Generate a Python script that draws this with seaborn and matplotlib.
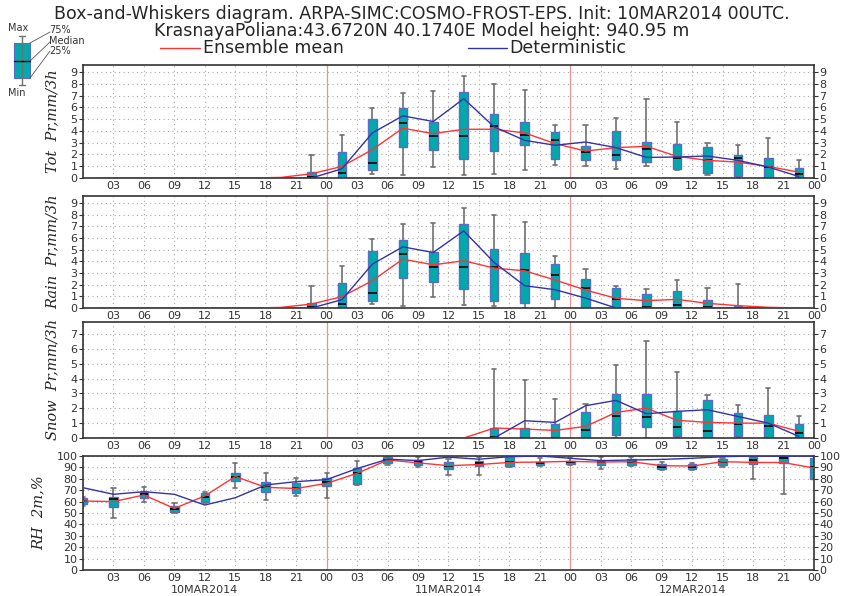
import numpy as np
import pandas as pd
import seaborn as sns
import matplotlib.pyplot as plt
from matplotlib.lines import Line2D
from matplotlib.patches import Rectangle

# ---- data (hours since 10MAR2014 00UTC) ----
# precipitation: 3h accumulations, plotted in the middle of each interval
pr_time = [1.5, 4.5, 7.5, 10.5, 13.5, 16.5, 19.5, 22.5, 25.5, 28.5, 31.5, 34.5,
           37.5, 40.5, 43.5, 46.5, 49.5, 52.5, 55.5, 58.5, 61.5, 64.5, 67.5, 70.5]

tot_max = [0, 0, 0, 0, 0, 0, 0, 1.92, 3.63, 5.97, 7.25, 7.36, 8.68, 7.99, 7.45, 4.49,
           4.49, 5.11, 6.68, 4.77, 2.98, 2.83, 3.43, 1.50]
tot_q3 = [0, 0, 0, 0, 0, 0, 0, 0.47, 2.20, 5.00, 5.91, 4.80, 7.28, 5.43, 4.80, 3.87,
          2.75, 4.03, 3.03, 2.86, 2.64, 1.98, 1.67, 0.87]
tot_med = [0, 0, 0, 0, 0, 0, 0, 0.07, 0.44, 1.30, 4.71, 3.60, 3.55, 4.46, 3.69, 3.27,
           2.18, 1.98, 2.44, 1.72, 1.55, 1.72, 0.93, 0.36]
tot_q1 = [0, 0, 0, 0, 0, 0, 0, 0, 0, 0.64, 2.64, 2.35, 1.64, 2.26, 2.78, 1.61,
          1.50, 1.52, 1.32, 0.75, 0.41, 0.13, 0, 0]
tot_min = [0, 0, 0, 0, 0, 0, 0, 0, 0, 0.36, 0.27, 0.93, 0.27, 0.36, 0.64, 1.13,
           1.01, 0.73, 1.04, 0.64, 0.27, 0, 0, 0]
tot_mean = [0, 0, 0, 0, 0, 0, 0.05, 0.36, 0.98, 2.41, 4.23, 3.77, 4.14, 4.14, 3.83, 2.92,
            2.29, 2.58, 2.69, 1.84, 1.50, 1.35, 0.98, 0.50]
tot_det = [0, 0, 0, 0, 0, 0, 0, 0, 0.78, 3.83, 5.28, 4.80, 6.74, 4.34, 3.20, 2.78,
           3.06, 2.58, 1.75, 1.78, 1.87, 1.50, 0.93, 0.13]

rain_max = [0, 0, 0, 0, 0, 0, 0, 1.85, 3.56, 5.90, 7.18, 7.26, 8.60, 7.95, 7.38, 4.42,
            3.33, 1.91, 1.62, 2.42, 1.68, 2.05, 0, 0]
rain_q3 = [0, 0, 0, 0, 0, 0, 0, 0.40, 2.11, 4.90, 5.87, 4.79, 7.24, 5.10, 4.73, 3.77,
           2.48, 1.68, 1.22, 1.48, 0.71, 0.20, 0, 0]
rain_med = [0, 0, 0, 0, 0, 0, 0, 0.06, 0.34, 1.28, 4.62, 3.53, 3.50, 3.50, 3.25, 2.80,
            1.68, 0.77, 0.06, 0.26, 0.06, 0.02, 0, 0]
rain_q1 = [0, 0, 0, 0, 0, 0, 0, 0, 0, 0.63, 2.56, 2.25, 1.60, 0.63, 0.43, 0.74,
           0, 0, 0, 0, 0, 0, 0, 0]
rain_min = [0, 0, 0, 0, 0, 0, 0, 0, 0, 0.34, 0.20, 0.91, 0.26, 0.14, 0, 0,
            0, 0, 0, 0, 0, 0, 0, 0]
rain_mean = [0, 0, 0, 0, 0, 0, 0.05, 0.34, 0.97, 2.34, 4.19, 3.70, 4.05, 3.42, 3.19, 2.40,
             1.54, 0.83, 0.63, 0.74, 0.40, 0.20, 0.06, 0]
rain_det = [0, 0, 0, 0, 0, 0, 0, 0, 0.71, 3.76, 5.24, 4.76, 6.61, 3.90, 1.91, 1.57,
            0.85, 0, 0, 0, 0, 0, 0, 0]

snow_max = [0, 0, 0, 0, 0, 0, 0, 0, 0, 0, 0, 0, 0, 4.65, 3.87, 2.62,
            2.30, 4.88, 6.55, 4.47, 2.91, 2.19, 3.36, 1.45]
snow_q3 = [0, 0, 0, 0, 0, 0, 0, 0, 0, 0, 0, 0, 0, 0.67, 0.67, 0.94,
           1.72, 2.98, 2.93, 1.79, 2.53, 1.68, 1.57, 0.92]
snow_med = [0, 0, 0, 0, 0, 0, 0, 0, 0, 0, 0, 0, 0, 0.05, 0.03, 0.03,
            0.56, 1.45, 1.41, 0.74, 0.45, 0.96, 0.83, 0.34]
snow_q1 = [0, 0, 0, 0, 0, 0, 0, 0, 0, 0, 0, 0, 0, 0, 0, 0,
           0, 0.18, 0.72, 0.16, 0, 0.11, 0, 0]
snow_min = [0] * 24
snow_mean = [0, 0, 0, 0, 0, 0, 0, 0, 0, 0, 0, 0, 0, 0.67, 0.60, 0.51,
             0.78, 1.72, 2.01, 1.19, 1.05, 1.00, 1.00, 0.45]
snow_det = [0, 0, 0, 0, 0, 0, 0, 0, 0, 0, 0, 0, 0, 0, 1.16, 1.05,
            2.17, 2.53, 1.63, 1.79, 1.90, 1.45, 1.00, 0.11]

# relative humidity, instantaneous every 3h
rh_time = [0, 3, 6, 9, 12, 15, 18, 21, 24, 27, 30, 33, 36, 39, 42, 45, 48,
           51, 54, 57, 60, 63, 66, 69, 72]
rh_max = [64.0, 71.6, 73.0, 58.5, 68.7, 93.6, 84.8, 81.0, 85.4, 95.9, 99.4, 99.4, 97.0,
          98.8, 100, 98.0, 98.0, 98.8, 99.4, 94.4, 94.0, 97.9, 100, 100, 100]
rh_q3 = [62.9, 64.3, 68.7, 56.4, 67.8, 85.4, 77.5, 76.0, 81.0, 89.2, 99.0, 96.5, 94.4,
         95.9, 98.8, 95.0, 95.9, 96.5, 97.0, 93.0, 93.0, 97.4, 99.4, 99.4, 98.0]
rh_med = [60.5, 62.0, 66.4, 53.8, 64.3, 81.9, 73.0, 72.0, 77.5, 84.8, 96.5, 94.4, 91.5,
          93.6, 95.0, 93.6, 94.4, 94.4, 94.7, 90.6, 90.6, 94.7, 96.5, 98.0, 90.0]
rh_q1 = [57.6, 55.0, 62.9, 51.2, 60.0, 78.1, 68.7, 67.3, 73.7, 75.1, 93.6, 92.1, 88.6,
         91.2, 91.2, 92.1, 93.0, 92.0, 92.0, 88.3, 88.3, 92.1, 93.0, 94.2, 79.5]
rh_min = [56.5, 45.9, 60.0, 49.7, 59.0, 71.6, 61.4, 65.0, 63.5, 74.5, 92.0, 90.6, 83.6,
          83.3, 90.6, 91.0, 92.1, 89.0, 91.5, 87.7, 88.0, 90.0, 79.5, 66.7, 79.5]
rh_mean = [60.5, 60.0, 65.8, 54.0, 65.0, 82.0, 72.5, 71.5, 76.0, 84.8, 96.5, 94.0, 91.5,
           92.5, 94.4, 94.7, 95.3, 94.7, 95.0, 91.5, 91.2, 95.0, 94.4, 94.2, 89.5]
rh_det = [72.2, 66.4, 68.7, 66.4, 57.0, 63.4, 74.6, 77.5, 79.3, 89.0, 97.2, 96.0, 99.0,
          97.2, 99.4, 100, 98.0, 95.9, 96.5, 97.0, 98.0, 99.4, 100, 100, 100]

# ---- style ----
TEAL = '#00aaaa'
BOXEDGE = '#5a6cc8'
WHISK = '#707070'
RED = '#ff3333'
BLUE = '#3333a8'
VLINE = '#f09090'


def long_table(times, mn, q1, md, q3, mx):
    # five values per box -> seaborn quartiles fall exactly on q1/median/q3
    rows = []
    for t, a, b, c, d, e in zip(times, mn, q1, md, q3, mx):
        if e == 0:
            continue
        for v in (a, b, c, d, e):
            rows.append({'t': t, 'v': v})
    return pd.DataFrame(rows)


def draw_panel(ax, times, mn, q1, md, q3, mx, mean, det, ymax, yticks, ylabel):
    df = long_table(times, mn, q1, md, q3, mx)
    sns.boxplot(data=df, x='t', y='v', native_scale=True, whis=(0, 100), width=0.28,
                color=TEAL, saturation=1, linecolor=BOXEDGE, linewidth=1.0,
                showfliers=False, ax=ax,
                medianprops={'color': 'black', 'linewidth': 1.2},
                whiskerprops={'color': WHISK, 'linewidth': 1.2},
                capprops={'color': WHISK, 'linewidth': 1.2},
                boxprops={'zorder': 2})
    sns.lineplot(x=times, y=mean, color=RED, linewidth=1.0, ax=ax, zorder=4)
    sns.lineplot(x=times, y=det, color=BLUE, linewidth=1.0, ax=ax, zorder=4)

    ax.set_xlim(0, 72)
    ax.set_ylim(0, ymax)
    xt = list(range(0, 73, 3))
    ax.set_xticks(xt)
    ax.set_xticklabels([''] + ['%02d' % (t % 24) for t in xt[1:]])
    ax.set_yticks(yticks)
    ax.set_yticklabels([str(y) for y in yticks])
    ax.grid(True, linestyle=(0, (1, 3)), color='#a8a8a8', linewidth=0.8)
    ax.set_axisbelow(True)
    for d in (24, 48):
        ax.axvline(d, color=VLINE, linewidth=0.9, zorder=1.5)
    ax.tick_params(axis='y', which='both', left=True, right=True, labelleft=True,
                   labelright=True, direction='out', length=3, labelsize=8, pad=1,
                   colors='#333333')
    ax.tick_params(axis='x', direction='in', length=3, labelsize=8, pad=2, colors='#333333')
    ax.set_xlabel('')
    ax.set_ylabel(ylabel, family='DejaVu Serif', style='italic', fontsize=10.5, labelpad=8)
    for s in ax.spines.values():
        s.set_color('#333333')
        s.set_linewidth(1.2)


sns.set_style('white')
plt.rcParams['font.family'] = ['DejaVu Sans']

fig = plt.figure(figsize=(8.43, 5.96), dpi=100)
W, H = 843.0, 596.0
left, width = 83 / W, 731 / W
ax1 = fig.add_axes([left, 1 - 178 / H, width, 113 / H])
ax2 = fig.add_axes([left, 1 - 308 / H, width, 112 / H])
ax3 = fig.add_axes([left, 1 - 438 / H, width, 116 / H])
ax4 = fig.add_axes([left, 1 - 570 / H, width, 114 / H])

draw_panel(ax1, pr_time, tot_min, tot_q1, tot_med, tot_q3, tot_max, tot_mean, tot_det,
           9.6, list(range(10)), 'Tot  Pr,mm/3h')
draw_panel(ax2, pr_time, rain_min, rain_q1, rain_med, rain_q3, rain_max, rain_mean, rain_det,
           9.6, list(range(10)), 'Rain  Pr,mm/3h')
draw_panel(ax3, pr_time, snow_min, snow_q1, snow_med, snow_q3, snow_max, snow_mean, snow_det,
           7.8, list(range(8)), 'Snow  Pr,mm/3h')
draw_panel(ax4, rh_time, rh_min, rh_q1, rh_med, rh_q3, rh_max, rh_mean, rh_det,
           100, list(range(0, 101, 10)), 'RH  2m,%')

# day labels under the bottom panel
for xd, lab in [(12, '10MAR2014'), (36, '11MAR2014'), (60, '12MAR2014')]:
    ax4.text(xd, -0.13, lab, transform=ax4.get_xaxis_transform(), ha='center', va='top',
             fontsize=8, color='#333333')

# titles
fig.text(0.5, 1 - 14 / H, 'Box-and-Whiskers diagram. ARPA-SIMC:COSMO-FROST-EPS. Init: 10MAR2014 00UTC.',
         ha='center', va='center', fontsize=12.5)
fig.text(0.5, 1 - 31 / H, 'KrasnayaPoliana:43.6720N 40.1740E Model height: 940.95 m',
         ha='center', va='center', fontsize=12.5)

# line legend
fig.add_artist(Line2D([160 / W, 200 / W], [1 - 48 / H, 1 - 48 / H], color=RED, linewidth=1.0))
fig.text(203 / W, 1 - 48 / H, 'Ensemble mean', ha='left', va='center', fontsize=12.5)
fig.add_artist(Line2D([468 / W, 507 / W], [1 - 48 / H, 1 - 48 / H], color=BLUE, linewidth=1.0))
fig.text(509 / W, 1 - 48 / H, 'Deterministic', ha='left', va='center', fontsize=12.5)


# box key in the corner
def fx(px):
    return px / W


def fy(py):
    return 1 - py / H


fig.add_artist(Line2D([fx(22), fx(22)], [fy(36), fy(85)], color=WHISK, linewidth=1.0))
fig.add_artist(Line2D([fx(19), fx(25)], [fy(36), fy(36)], color=WHISK, linewidth=1.0))
fig.add_artist(Line2D([fx(19), fx(25)], [fy(85), fy(85)], color=WHISK, linewidth=1.0))
fig.add_artist(Rectangle((fx(14), fy(78)), fx(16), fy(43) - fy(78), facecolor=TEAL,
                         edgecolor=BOXEDGE, linewidth=0.8))
fig.add_artist(Line2D([fx(14), fx(30)], [fy(61), fy(61)], color='black', linewidth=1.0))
for y0, y1 in [(43, 32), (61, 42), (78, 51)]:
    fig.add_artist(Line2D([fx(30), fx(50)], [fy(y0), fy(y1)], color='#555555', linewidth=0.6))
fig.text(fx(8), fy(28), 'Max', fontsize=7, va='center', color='#333333')
fig.text(fx(49), fy(30), '75%', fontsize=7, va='center', color='#333333')
fig.text(fx(49), fy(41), 'Median', fontsize=7, va='center', color='#333333')
fig.text(fx(49), fy(51), '25%', fontsize=7, va='center', color='#333333')
fig.text(fx(8), fy(93), 'Min', fontsize=7, va='center', color='#333333')

fig.savefig('out.png', dpi=100)
